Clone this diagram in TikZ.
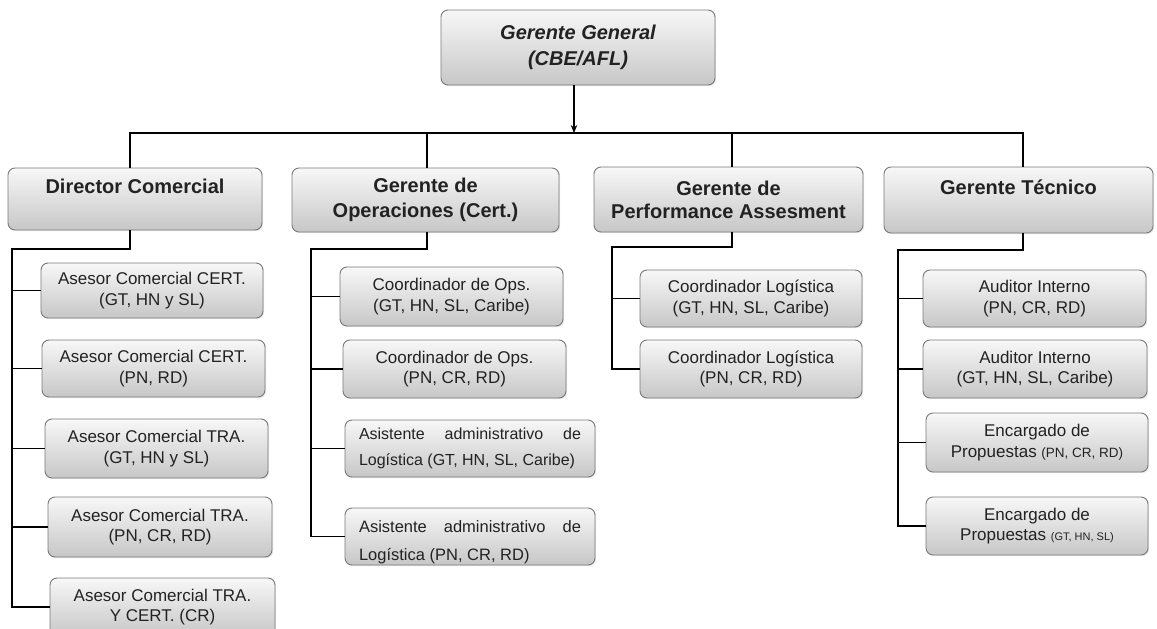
\documentclass[tikz,border=0pt]{standalone}
\usepackage{fontspec}
\setmainfont{Liberation Sans}
\usetikzlibrary{arrows.meta,shadows}
\definecolor{boxborder}{HTML}{7A7A7A}
\definecolor{txt}{HTML}{222222}
\tikzset{
  box/.style={rectangle, rounded corners=7pt, draw=boxborder, line width=0.9pt,
    top color=black!3, bottom color=black!22, inner sep=0pt, text=txt, align=center,
    drop shadow={opacity=0.18, shadow xshift=1.2pt, shadow yshift=-1.2pt}},
  head/.style={box, font=\fontsize{20}{25}\selectfont\bfseries},
  sub/.style={box, font=\fontsize{17}{20.5}\selectfont},
  link/.style={draw=black, line width=1.2pt},
  arrowlink/.style={link, -{Stealth[length=8pt,width=6.5pt]}},
  plain/.style={inner sep=0pt, text=txt, align=left}
}
\begin{document}
\begin{tikzpicture}[x=1pt,y=-1pt]
\clip (0,0) rectangle (1157,629);
\fill[white] (0,0) rectangle (1157,629);
% top
\node[box, minimum width=274pt, minimum height=75pt,
  font=\fontsize{20}{26}\selectfont\bfseries\itshape] (top) at (578,47.5) {Gerente General\\(CBE/AFL)};
% heads
\node[head, minimum width=254pt, minimum height=62pt] (dir) at (135,199) {Director Comercial\\\mbox{}};
\node[head, minimum width=267pt, minimum height=64pt] (ops) at (425.5,200) {Gerente de\\Operaciones (Cert.)};
\node[head, minimum width=269pt, minimum height=65pt, font=\fontsize{20}{23}\selectfont\bfseries] (perf) at (728.5,199.5) {Gerente de\\Performance Assesment};
\node[head, minimum width=269pt, minimum height=66pt] (tec) at (1018.5,200) {Gerente Técnico\\\mbox{}};
% Director subs
\node[sub, minimum width=222pt, minimum height=55pt] (d1) at (152,290.5) {Asesor Comercial CERT.\\(GT, HN y SL)};
\node[sub, minimum width=223pt, minimum height=57pt] (d2) at (153.5,368.5) {Asesor Comercial CERT.\\(PN, RD)};
\node[sub, minimum width=223pt, minimum height=59pt] (d3) at (156.5,448.5) {Asesor Comercial TRA.\\(GT, HN y SL)};
\node[sub, minimum width=224pt, minimum height=60pt] (d4) at (160,527) {Asesor Comercial TRA.\\(PN, CR, RD)};
\node[sub, minimum width=225pt, minimum height=58pt] (d5) at (162.5,607) {Asesor Comercial TRA.\\Y CERT. (CR)};
% Ops subs
\node[sub, minimum width=223pt, minimum height=59pt] (o1) at (451.5,296.5) {Coordinador de Ops.\\(GT, HN, SL, Caribe)};
\node[sub, minimum width=223pt, minimum height=58pt] (o2) at (454.5,369) {Coordinador de Ops.\\(PN, CR, RD)};
\node[sub, minimum width=250pt, minimum height=57pt, align=left, font=\fontsize{16}{26}\selectfont] (o3) at (470,448.5)
  {\makebox[222pt][s]{Asistente administrativo de}\\Logística (GT, HN, SL, Caribe)};
\node[sub, minimum width=250pt, minimum height=57pt] (o4) at (470,536.5) {};
\begin{scope}
  \clip[rounded corners=7pt] (o4.south west) rectangle (o4.north east);
  \node[plain, font=\fontsize{16.5}{28}\selectfont] (o4t) at (470,542)
    {\makebox[222pt][s]{Asistente administrativo de}\\Logística (PN, CR, RD)};
\end{scope}
% Perf subs
\node[sub, minimum width=222pt, minimum height=57pt] (p1) at (751,298.5) {Coordinador Logística\\(GT, HN, SL, Caribe)};
\node[sub, minimum width=222pt, minimum height=58pt] (p2) at (751,369) {Coordinador Logística\\(PN, CR, RD)};
% Tec subs
\node[sub, minimum width=223pt, minimum height=57pt] (t1) at (1034.5,298.5) {Auditor Interno\\(PN, CR, RD)};
\node[sub, minimum width=224pt, minimum height=58pt] (t2) at (1035,369) {Auditor Interno\\(GT, HN, SL, Caribe)};
\node[sub, minimum width=222pt, minimum height=59pt] (t3) at (1037,442.5) {Encargado de\\Propuestas {\fontsize{13.5}{16}\selectfont(PN, CR, RD)}};
\node[sub, minimum width=222pt, minimum height=58pt] (t4) at (1037,526) {Encargado de\\Propuestas {\fontsize{11}{14}\selectfont(GT, HN, SL)}};
% top connectors
\coordinate (bus) at (574,133);
\draw[arrowlink] (top.south -| bus) -- (bus);
\draw[link] ([xshift=-5pt]dir.north) |- (bus) -| ([xshift=4.5pt]tec.north);
\draw[link] ([xshift=1.5pt]ops.north) -- ([xshift=1.5pt]ops.north |- bus);
\draw[link] ([xshift=3.5pt]perf.north) -- ([xshift=3.5pt]perf.north |- bus);
% director tree
\coordinate (dL) at (12,249);
\draw[link] ([xshift=-5pt]dir.south) |- (dL) -- (dL |- d5.west) -- (d5.west);
\foreach \n in {d1,d2,d3,d4} \draw[link] (dL |- \n.west) -- (\n.west);
% ops tree
\coordinate (oL) at (311,249);
\draw[link] ([xshift=1.5pt]ops.south) |- (oL) -- (oL |- o4.west) -- (o4.west);
\foreach \n in {o1,o2,o3} \draw[link] (oL |- \n.west) -- (\n.west);
% perf tree
\coordinate (pL) at (612,247);
\draw[link] ([xshift=3.5pt]perf.south) |- (pL) -- (pL |- p2.west) -- (p2.west);
\draw[link] (pL |- p1.west) -- (p1.west);
% tec tree
\coordinate (tL) at (898,250);
\draw[link] ([xshift=4.5pt]tec.south) |- (tL) -- (tL |- t4.west) -- (t4.west);
\foreach \n in {t1,t2,t3} \draw[link] (tL |- \n.west) -- (\n.west);
\end{tikzpicture}
\end{document}
